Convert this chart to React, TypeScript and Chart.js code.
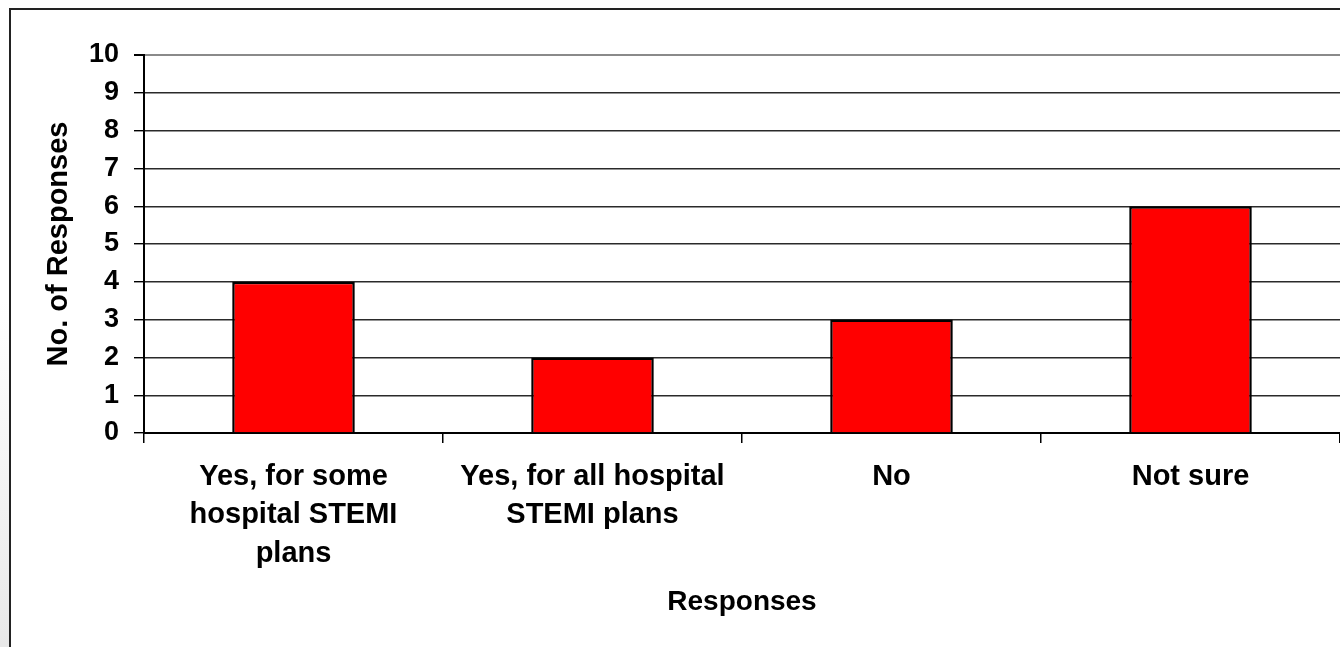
import React, { useEffect, useRef } from "react";
import { Chart, registerables } from "chart.js";

Chart.register(...registerables);

const categories: string[][] = [
  ["Yes, for some", "hospital STEMI", "plans"],
  ["Yes, for all hospital", "STEMI plans"],
  ["No"],
  ["Not sure"],
];
const responseCounts: number[] = [4, 2, 3, 6];
const yTickValues: number[] = [0, 1, 2, 3, 4, 5, 6, 7, 8, 9, 10];
const xAxisTitle = "Responses";
const yAxisTitle = "No. of Responses";

const FONT = "'Liberation Sans', Arial, sans-serif";

const framePlugin = {
  id: "frame",
  beforeDraw(chart: any) {
    const ctx = chart.ctx;
    ctx.save();
    ctx.fillStyle = "#ffffff";
    ctx.fillRect(0, 0, chart.width, chart.height);
    const g = ctx.createLinearGradient(0, 300, 0, chart.height);
    g.addColorStop(0, "rgba(235,235,235,0)");
    g.addColorStop(1, "rgba(232,232,232,1)");
    ctx.fillStyle = g;
    ctx.fillRect(0, 300, 9, chart.height - 300);
    ctx.restore();
  },
  afterDraw(chart: any) {
    const ctx = chart.ctx;
    ctx.save();
    ctx.strokeStyle = "#222222";
    ctx.lineWidth = 2;
    ctx.beginPath();
    ctx.moveTo(10, chart.height + 2);
    ctx.lineTo(10, 9);
    ctx.lineTo(chart.width + 2, 9);
    ctx.stroke();
    ctx.restore();
  },
};

export default function App() {
  const ref = useRef<HTMLCanvasElement | null>(null);

  useEffect(() => {
    if (!ref.current) return;
    const chart = new Chart(ref.current, {
      type: "bar",
      data: {
        labels: categories,
        datasets: [
          {
            data: responseCounts,
            backgroundColor: "#ff0000",
            borderColor: "#000000",
            borderWidth: 2.5,
            categoryPercentage: 1,
            barPercentage: 0.41,
          },
        ],
      },
      plugins: [framePlugin],
      options: {
        responsive: false,
        animation: false,
        maintainAspectRatio: false,
        layout: { padding: { top: 55, left: 0, right: 0, bottom: 0 } },
        plugins: {
          legend: { display: false },
          tooltip: { enabled: false },
        },
        scales: {
          x: {
            afterFit: (s: any) => {
              s.height = 214;
            },
            grid: {
              offset: true,
              drawOnChartArea: false,
              drawTicks: true,
              tickLength: 10,
              tickColor: "#000000",
              lineWidth: 1.5,
            },
            border: { display: true, color: "#000000", width: 2 },
            ticks: {
              color: "#000000",
              font: { family: FONT, size: 29, weight: "bold", lineHeight: 1.32 },
              padding: 15,
              maxRotation: 0,
              autoSkip: false,
            },
            title: {
              display: true,
              text: xAxisTitle,
              color: "#000000",
              font: { family: FONT, size: 28, weight: "bold", lineHeight: 1.2 },
              padding: { top: 0, bottom: 28 },
            },
          },
          y: {
            min: 0,
            max: 10,
            afterFit: (s: any) => {
              s.width = 144;
            },
            afterBuildTicks: (s: any) => {
              s.ticks = yTickValues.map((v) => ({ value: v }));
            },
            grid: {
              color: (c: any) => (c.tick && c.tick.value === 10 ? "#8a8a8a" : "#2a2a2a"),
              lineWidth: (c: any) => (c.tick && c.tick.value === 10 ? 2 : 1.4),
              drawTicks: true,
              tickLength: 10,
              tickColor: "#000000",
            },
            border: { display: true, color: "#000000", width: 2 },
            ticks: {
              color: "#000000",
              font: { family: FONT, size: 27, weight: "bold" },
              padding: 15,
              stepSize: 1,
            },
            title: {
              display: true,
              text: yAxisTitle,
              color: "#000000",
              font: { family: FONT, size: 29, weight: "bold", lineHeight: 1.2 },
              padding: { top: 42, bottom: 0 },
            },
          },
        },
      },
    });
    return () => chart.destroy();
  }, []);

  return (
    <div style={{ position: "absolute", left: 0, top: 0, width: 1340, height: 647 }}>
      <canvas ref={ref} width={1340} height={647} style={{ display: "block", width: 1340, height: 647 }} />
    </div>
  );
}
